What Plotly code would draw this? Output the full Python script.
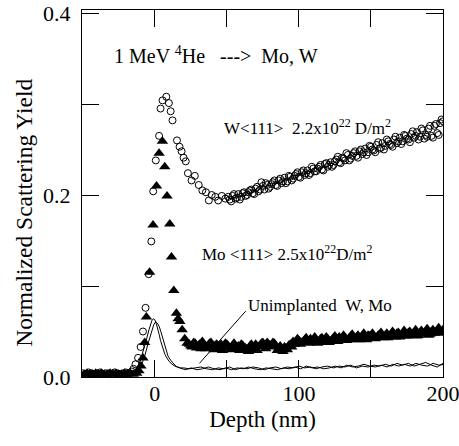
import plotly.graph_objects as go

# ---------------- data ----------------
# W <111> implanted 2.2e22 D/m^2 (open circles)
w_depth = [-50, -48, -46, -44, -42, -40, -38, -36, -34, -32, -30, -28, -26, -24, -22, -20, -18, -16,
           -14.8, -13.4, -11.6, -9.8, -8.2, -6.4, -4.2, -2.4, -1.1, 0.7, 3.0, 4.0, 5.4, 8.0, 9.8, 11.0,
           12.3, 15.4, 17.2, 18.6, 20.0, 21.5, 23.0, 25.5, 27.8, 30.5, 33.0, 35.5, 37.5, 39.5, 42.0,
           44.0, 46.5, 49.0,
           52, 54, 56, 58, 60, 62, 64, 66, 68, 70, 72, 74, 76, 78, 80, 82, 84, 86, 88, 90, 92, 94,
           96, 98, 100, 102, 104, 106, 108, 110, 112, 114, 116, 118, 120, 122, 124, 126, 128, 130,
           132, 134, 136, 138, 140, 142, 144, 146, 148, 150, 152, 154, 156, 158, 160, 162, 164, 166,
           168, 170, 172, 174, 176, 178, 180, 182, 184, 186, 188, 190, 192, 194, 196, 198, 200]
w_yield = [0.004, 0.003, 0.005, 0.004, 0.003, 0.004, 0.005, 0.003, 0.004, 0.004, 0.003, 0.005, 0.004,
           0.003, 0.004, 0.005, 0.004, 0.006,
           0.009, 0.014, 0.021, 0.033, 0.050, 0.076, 0.113, 0.149, 0.204, 0.238, 0.265, 0.295, 0.304,
           0.308, 0.301, 0.292, 0.282, 0.260, 0.253, 0.248, 0.241, 0.237, 0.224, 0.216, 0.221, 0.211,
           0.205, 0.203, 0.194, 0.200, 0.198, 0.194, 0.199, 0.196,
           0.195, 0.199, 0.196, 0.201, 0.198, 0.203, 0.200, 0.205, 0.202, 0.207, 0.204, 0.214, 0.206,
           0.211, 0.209, 0.214, 0.211, 0.216, 0.213, 0.219, 0.215, 0.220, 0.218, 0.223, 0.220, 0.225,
           0.222, 0.227, 0.224, 0.229, 0.226, 0.231, 0.228, 0.234, 0.231, 0.236, 0.233, 0.239, 0.236,
           0.241, 0.238, 0.244, 0.240, 0.246, 0.243, 0.248, 0.245, 0.251, 0.247, 0.253, 0.249, 0.255,
           0.251, 0.257, 0.254, 0.259, 0.255, 0.261, 0.257, 0.263, 0.259, 0.265, 0.261, 0.267, 0.263,
           0.269, 0.264, 0.271, 0.266, 0.273, 0.265, 0.276, 0.268, 0.279, 0.281]
# second interleaved set of W channels (odd depths)
w_depth_b = [51, 53, 55, 57, 59, 61, 63, 65, 67, 69, 71, 73, 75, 77, 79, 81, 83, 85, 87, 89, 91, 93,
             95, 97, 99, 101, 103, 105, 107, 109, 111, 113, 115, 117, 119, 121, 123, 125, 127, 129,
             131, 133, 135, 137, 139, 141, 143, 145, 147, 149, 151, 153, 155, 157, 159, 161, 163, 165,
             167, 169, 171, 173, 175, 177, 179, 181, 183, 185, 187, 189, 191, 193, 195, 197, 199]
w_yield_b = [0.198, 0.193, 0.201, 0.197, 0.195, 0.202, 0.199, 0.203, 0.206, 0.201, 0.209, 0.206, 0.210,
             0.213, 0.207, 0.212, 0.216, 0.210, 0.218, 0.215, 0.213, 0.221, 0.216, 0.221, 0.225, 0.219,
             0.227, 0.224, 0.222, 0.231, 0.226, 0.229, 0.233, 0.227, 0.235, 0.233, 0.231, 0.237, 0.242,
             0.235, 0.240, 0.246, 0.238, 0.243, 0.248, 0.241, 0.250, 0.247, 0.244, 0.254, 0.250, 0.247,
             0.258, 0.252, 0.250, 0.261, 0.256, 0.253, 0.264, 0.259, 0.256, 0.266, 0.262, 0.258, 0.270,
             0.265, 0.261, 0.273, 0.262, 0.264, 0.276, 0.263, 0.278, 0.266, 0.283]

# Mo <111> implanted 2.5e22 D/m^2 (filled triangles)
mo_depth = [-49, -47, -45, -43, -41, -39, -37, -35, -33, -31, -29, -27, -25, -23, -21, -19, -17, -15,
            -12.5, -11.0, -9.6, -8.2, -7.0, -5.8, -3.6, -1.2, 1.2, 3.0, 5.3, 6.9, 8.5, 10.4, 11.6,
            13.2, 15.0, 16.2, 17.4, 19.0, 20.8, 22.4,
            24, 26, 28, 30, 32, 34, 36, 38, 40, 42, 44, 46, 48, 50, 52, 54, 56, 58, 60, 62, 64, 66,
            68, 70, 72, 74, 76, 78, 80, 82, 84, 86, 88, 90, 92, 94, 96, 98, 100, 102, 104, 106, 108,
            110, 112, 114, 116, 118, 120, 122, 124, 126, 128, 130, 132, 134, 136, 138, 140, 142, 144,
            146, 148, 150, 152, 154, 156, 158, 160, 162, 164, 166, 168, 170, 172, 174, 176, 178, 180,
            182, 184, 186, 188, 190, 192, 194, 196, 198, 200]
mo_yield = [0.003, 0.004, 0.003, 0.003, 0.004, 0.003, 0.004, 0.003, 0.003, 0.004, 0.003, 0.004, 0.003,
            0.003, 0.004, 0.003, 0.004, 0.003,
            0.004, 0.007, 0.012, 0.021, 0.038, 0.066, 0.115, 0.167, 0.210, 0.246, 0.259, 0.231, 0.199,
            0.168, 0.132, 0.095, 0.070, 0.064, 0.061, 0.052, 0.042, 0.037,
            0.036, 0.033, 0.037, 0.034, 0.031, 0.036, 0.033, 0.037, 0.032, 0.035, 0.031, 0.036, 0.033,
            0.036, 0.032, 0.035, 0.031, 0.034, 0.036, 0.030, 0.029, 0.034, 0.030, 0.036, 0.033, 0.037,
            0.034, 0.038, 0.035, 0.038, 0.034, 0.031, 0.030, 0.033, 0.030, 0.036, 0.039, 0.037, 0.040,
            0.038, 0.041, 0.039, 0.042, 0.038, 0.041, 0.039, 0.043, 0.040, 0.042, 0.039, 0.043, 0.041,
            0.044, 0.040, 0.043, 0.041, 0.045, 0.042, 0.044, 0.041, 0.045, 0.042, 0.046, 0.043, 0.045,
            0.043, 0.047, 0.044, 0.046, 0.043, 0.047, 0.045, 0.048, 0.044, 0.047, 0.045, 0.049, 0.046,
            0.048, 0.045, 0.049, 0.047, 0.050, 0.046, 0.050, 0.048, 0.051, 0.048, 0.052]
# second interleaved set of Mo channels (odd depths)
mo_depth_b = [25, 27, 29, 31, 33, 35, 37, 39, 41, 43, 45, 47, 49, 51, 53, 55, 57, 59, 61, 63, 65, 67,
              69, 71, 73, 75, 77, 79, 81, 83, 85, 87, 89, 91, 93, 95, 97, 99, 101, 103, 105, 107, 109,
              111, 113, 115, 117, 119, 121, 123, 125, 127, 129, 131, 133, 135, 137, 139, 141, 143, 145,
              147, 149, 151, 153, 155, 157, 159, 161, 163, 165, 167, 169, 171, 173, 175, 177, 179, 181,
              183, 185, 187, 189, 191, 193, 195, 197, 199]
mo_yield_b = [0.034, 0.038, 0.032, 0.036, 0.039, 0.031, 0.035, 0.038, 0.030, 0.036, 0.034, 0.029, 0.037,
              0.034, 0.030, 0.037, 0.033, 0.029, 0.035, 0.032, 0.028, 0.036, 0.032, 0.029, 0.035, 0.038,
              0.031, 0.036, 0.033, 0.037, 0.029, 0.034, 0.028, 0.032, 0.035, 0.033, 0.036, 0.042, 0.036,
              0.039, 0.043, 0.037, 0.040, 0.044, 0.037, 0.042, 0.038, 0.044, 0.038, 0.041, 0.045, 0.039,
              0.042, 0.046, 0.040, 0.043, 0.047, 0.041, 0.046, 0.043, 0.048, 0.041, 0.045, 0.048, 0.042,
              0.046, 0.049, 0.043, 0.048, 0.045, 0.050, 0.044, 0.049, 0.046, 0.051, 0.045, 0.050, 0.047,
              0.052, 0.046, 0.051, 0.049, 0.053, 0.047, 0.052, 0.049, 0.054, 0.050]

# Unimplanted W and Mo (lines)
unimp_depth = [-50, -48, -46, -44, -42, -40, -38, -36, -34, -32, -30, -28, -26, -24, -22, -20, -18, -16,
               -14, -12, -10, -8, -6, -4, -2, -1, 0, 1, 2, 3, 4, 5, 6, 7, 8, 10, 12, 14, 16, 18, 20,
               24, 28, 32, 36, 40, 44, 48, 52, 56, 60, 64, 68, 72, 76, 80, 84, 88, 92, 96, 100, 104,
               108, 112, 116, 120, 124, 128, 132, 136, 140, 144, 148, 152, 156, 160, 164, 168, 172,
               176, 180, 184, 188, 192, 196, 200]
unimp_w = [0.003, 0.004, 0.003, 0.003, 0.004, 0.003, 0.003, 0.004, 0.003, 0.003, 0.004, 0.003, 0.003,
           0.004, 0.003, 0.004, 0.004, 0.005,
           0.007, 0.011, 0.018, 0.028, 0.040, 0.052, 0.062, 0.064, 0.063, 0.059, 0.054, 0.047, 0.040,
           0.034, 0.029, 0.025, 0.022, 0.017, 0.014, 0.012, 0.011, 0.010, 0.010,
           0.009, 0.010, 0.011, 0.009, 0.008, 0.010, 0.009, 0.011, 0.008, 0.010, 0.009, 0.011, 0.010,
           0.008, 0.010, 0.011, 0.009, 0.011, 0.010, 0.012, 0.010, 0.011, 0.009, 0.011, 0.012, 0.010,
           0.012, 0.011, 0.013, 0.010, 0.012, 0.011, 0.013, 0.012, 0.014, 0.012, 0.015, 0.013, 0.015,
           0.012, 0.014, 0.016, 0.013, 0.011, 0.015]
unimp_mo = [0.003, 0.003, 0.004, 0.003, 0.003, 0.003, 0.004, 0.003, 0.003, 0.004, 0.003, 0.003, 0.004,
            0.003, 0.003, 0.003, 0.004, 0.004,
            0.006, 0.009, 0.015, 0.024, 0.036, 0.048, 0.057, 0.060, 0.060, 0.058, 0.055, 0.050, 0.044,
            0.038, 0.032, 0.027, 0.023, 0.018, 0.014, 0.011, 0.010, 0.009, 0.008,
            0.010, 0.008, 0.009, 0.011, 0.009, 0.008, 0.010, 0.008, 0.010, 0.009, 0.011, 0.009, 0.008,
            0.010, 0.009, 0.008, 0.010, 0.009, 0.011, 0.009, 0.012, 0.010, 0.011, 0.009, 0.010, 0.012,
            0.010, 0.013, 0.011, 0.012, 0.014, 0.012, 0.011, 0.013, 0.011, 0.014, 0.012, 0.014, 0.012,
            0.015, 0.013, 0.012, 0.015, 0.013, 0.014]

x_tickvals = [0, 100, 200]
x_ticktext = ["0", "100", "200"]
x_minor_tickvals = [-50, 50, 150]
y_tickvals = [0.0, 0.2, 0.4]
y_ticktext = ["0.0", "0.2", "0.4"]
y_minor_tickvals = [0.1, 0.3]

FONT = "Liberation Serif, Times New Roman, serif"
NB = "\u00a0"

fig = go.Figure()
fig.add_trace(go.Scatter(
    x=w_depth + w_depth_b, y=w_yield + w_yield_b, mode="markers",
    marker=dict(symbol="circle-open", size=7, color="black", line=dict(width=1, color="black")),
    showlegend=False))
fig.add_trace(go.Scatter(
    x=mo_depth + mo_depth_b, y=mo_yield + mo_yield_b, mode="markers",
    marker=dict(symbol="triangle-up", size=10, color="black", line=dict(width=0)),
    showlegend=False))
fig.add_trace(go.Scatter(
    x=unimp_depth, y=unimp_w, mode="lines",
    line=dict(color="black", width=1), showlegend=False))
fig.add_trace(go.Scatter(
    x=[d + 1.2 for d in unimp_depth], y=unimp_mo, mode="lines",
    line=dict(color="black", width=1), showlegend=False))

ann_font = dict(family=FONT, size=17, color="black")
fig.add_annotation(x=-30, y=0.354, xref="x", yref="y", xanchor="left", yanchor="middle",
                   text="1 MeV <sup>4</sup>He" + NB * 3 + "---&gt;" + NB * 2 + "Mo, W",
                   showarrow=False, font=dict(family=FONT, size=20, color="black"))
fig.add_annotation(x=46.5, y=0.275, xref="x", yref="y", xanchor="left", yanchor="middle",
                   text="W&lt;111&gt;" + NB * 2 + "2.2x10<sup>22</sup>" + NB + "D/m<sup>2</sup>",
                   showarrow=False, font=ann_font)
fig.add_annotation(x=31.3, y=0.136, xref="x", yref="y", xanchor="left", yanchor="middle",
                   text="Mo &lt;111&gt; 2.5x10<sup>22</sup>D/m<sup>2</sup>",
                   showarrow=False, font=ann_font)
fig.add_annotation(x=63.2, y=0.079, xref="x", yref="y", xanchor="left", yanchor="middle",
                   text="Unimplanted" + NB * 2 + "W, Mo",
                   showarrow=False, font=ann_font)
fig.add_annotation(x=31, y=0.015, ax=64, ay=0.074, xref="x", yref="y", axref="x", ayref="y",
                   text="", showarrow=True, arrowhead=0, arrowwidth=1, arrowcolor="black")
# y-axis title (placed as rotated text, lower than plot centre as in the original)
fig.add_annotation(x=-0.163, y=0.448, xref="paper", yref="paper", xanchor="center", yanchor="middle",
                   text="Normalized Scattering Yield", textangle=-90, showarrow=False,
                   font=dict(family=FONT, size=23.5, color="black"))

axis_common = dict(
    showline=True, linecolor="black", linewidth=1.3, mirror="ticks",
    ticks="inside", ticklen=17, tickwidth=1, tickcolor="black",
    showgrid=False, zeroline=False, ticklabeloverflow="allow",
    tickfont=dict(family=FONT, size=22, color="black"),
)

fig.update_xaxes(range=[-50.5, 200], tickmode="array", tickvals=x_tickvals, ticktext=x_ticktext,
                 minor=dict(tickmode="array", tickvals=x_minor_tickvals, ticks="inside", ticklen=17,
                            tickwidth=1, tickcolor="black", showgrid=False),
                 title=dict(text="Depth (nm)", font=dict(family=FONT, size=23, color="black"), standoff=6),
                 ticklabelstandoff=-4, **axis_common)
fig.update_yaxes(range=[0, 0.4033], tickmode="array", tickvals=y_tickvals, ticktext=y_ticktext,
                 minor=dict(tickmode="array", tickvals=y_minor_tickvals, ticks="inside", ticklen=17,
                            tickwidth=1, tickcolor="black", showgrid=False),
                 ticklabelstandoff=6, **axis_common)

fig.update_layout(
    width=459, height=446,
    margin=dict(l=82, r=16, t=10, b=69, autoexpand=False),
    paper_bgcolor="white", plot_bgcolor="white",
    font=dict(family=FONT, color="black"),
)

fig.write_html("out.html")
